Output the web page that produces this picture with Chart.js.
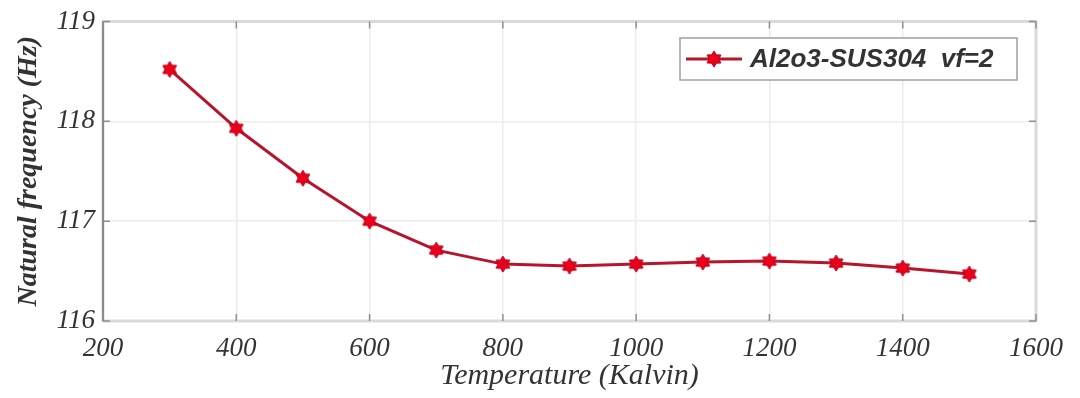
<!DOCTYPE html>
<html>
<head>
<meta charset="utf-8">
<script src="https://cdn.jsdelivr.net/npm/chart.js@4.4.1/dist/chart.umd.min.js"></script>
<style>
  html, body { margin: 0; padding: 0; background: #fff; }
  #wrap { width: 1080px; height: 398px; position: relative; }
</style>
</head>
<body>
<div id="wrap"><canvas id="grafica" width="1080" height="398"></canvas></div>
<script>
// --- datos ---
const temperaturas = [300, 400, 500, 600, 700, 800, 900, 1000, 1100, 1200, 1300, 1400, 1500];
const frecuencias  = [118.52, 117.93, 117.43, 117.00, 116.71, 116.57, 116.55, 116.57, 116.59, 116.60, 116.58, 116.53, 116.47];
const serieNombre  = 'Al2o3-SUS304  vf=2';
const xTicks = [200, 400, 600, 800, 1000, 1200, 1400, 1600];
const yTicks = [116, 117, 118, 119];

const ROJO_LINEA = '#b8142c';
const ROJO_MARCA = '#e8001c';

// estrella de 6 puntas para los marcadores
function hacerEstrella(r) {
  const c = document.createElement('canvas');
  const s = Math.ceil(r * 2 + 4);
  c.width = s; c.height = s;
  const g = c.getContext('2d');
  g.translate(s / 2, s / 2);
  g.beginPath();
  for (let i = 0; i < 12; i++) {
    const ang = -Math.PI / 2 + i * Math.PI / 6;
    const rad = i % 2 === 0 ? r : r * 0.6;
    const px = Math.cos(ang) * rad, py = Math.sin(ang) * rad;
    if (i === 0) g.moveTo(px, py); else g.lineTo(px, py);
  }
  g.closePath();
  g.fillStyle = ROJO_MARCA;
  g.fill();
  g.lineWidth = 1;
  g.strokeStyle = '#c00018';
  g.stroke();
  return c;
}
const estrella = hacerEstrella(8);

// marco del eje, ticks hacia dentro y leyenda con borde
const marcoPlugin = {
  id: 'marco',
  afterDatasetsDraw(chart) {
    const { ctx, chartArea: a, scales } = chart;
    ctx.save();
    ctx.strokeStyle = '#dadada';
    ctx.lineWidth = 3;
    ctx.strokeRect(a.left, a.top, a.right - a.left, a.bottom - a.top);
    ctx.strokeStyle = '#8a8a8a';
    ctx.lineWidth = 2;
    ctx.beginPath();
    ctx.moveTo(a.left, a.top); ctx.lineTo(a.left, a.bottom);
    ctx.stroke();
    // ticks hacia dentro
    ctx.strokeStyle = '#909090';
    ctx.lineWidth = 1.5;
    ctx.beginPath();
    xTicks.forEach(v => {
      const x = scales.x.getPixelForValue(v);
      ctx.moveTo(x, a.bottom); ctx.lineTo(x, a.bottom - 7);
      ctx.moveTo(x, a.top); ctx.lineTo(x, a.top + 7);
    });
    yTicks.forEach(v => {
      const y = scales.y.getPixelForValue(v);
      ctx.moveTo(a.left, y); ctx.lineTo(a.left + 7, y);
      ctx.moveTo(a.right, y); ctx.lineTo(a.right - 7, y);
    });
    ctx.stroke();

    // leyenda
    const lx = 680, ly = 38, lw = 337, lh = 42;
    ctx.fillStyle = '#fff';
    ctx.fillRect(lx, ly, lw, lh);
    ctx.strokeStyle = '#a0a0a0';
    ctx.lineWidth = 1.5;
    ctx.strokeRect(lx, ly, lw, lh);
    ctx.strokeStyle = ROJO_LINEA;
    ctx.lineWidth = 3;
    ctx.beginPath();
    ctx.moveTo(lx + 6, ly + lh / 2); ctx.lineTo(lx + 62, ly + lh / 2);
    ctx.stroke();
    ctx.drawImage(estrella, lx + 34 - estrella.width / 2, ly + lh / 2 - estrella.height / 2);
    ctx.fillStyle = '#333';
    ctx.font = 'italic bold 26px "Liberation Sans", Arial, sans-serif';
    ctx.textBaseline = 'middle';
    ctx.textAlign = 'left';
    ctx.fillText(serieNombre, lx + 70, ly + lh / 2 + 1);
    ctx.restore();
  }
};

const fuenteTicks = { family: '"Liberation Serif", serif', size: 27, style: 'italic', lineHeight: 1 };

new Chart(document.getElementById('grafica'), {
  type: 'line',
  data: {
    datasets: [{
      label: serieNombre,
      data: temperaturas.map((t, i) => ({ x: t, y: frecuencias[i] })),
      borderColor: ROJO_LINEA,
      borderWidth: 3,
      pointStyle: estrella,
      pointRadius: 8,
      tension: 0
    }]
  },
  options: {
    responsive: false,
    animation: false,
    layout: { padding: { left: 8, right: 44, top: 20, bottom: 0 } },
    plugins: { legend: { display: false }, tooltip: { enabled: false } },
    scales: {
      x: {
        type: 'linear',
        min: 200, max: 1600,
        afterBuildTicks: s => { s.ticks = xTicks.map(v => ({ value: v })); },
        afterFit: s => { s.height = 77; },
        grid: { color: '#ececec', lineWidth: 1.5, drawTicks: false },
        border: { display: false },
        ticks: { color: '#333', font: fuenteTicks, padding: 14, maxRotation: 0, callback: v => String(v) },
        title: {
          display: true, text: 'Temperature (Kalvin)', color: '#333',
          font: { family: '"Liberation Serif", serif', size: 30, style: 'italic' },
          padding: { top: 0 }
        }
      },
      y: {
        min: 116, max: 119,
        afterBuildTicks: s => { s.ticks = yTicks.map(v => ({ value: v })); },
        afterFit: s => { s.width = 95; },
        grid: { color: '#ececec', lineWidth: 1.5, drawTicks: false },
        border: { display: false },
        ticks: { color: '#333', font: fuenteTicks, padding: 8, callback: v => String(v) },
        title: {
          display: true, text: 'Natural frequency (Hz)', color: '#333',
          font: { family: '"Liberation Serif", serif', size: 28, style: 'italic', weight: 'bold' },
          padding: { bottom: 2 }
        }
      }
    }
  },
  plugins: [marcoPlugin]
});
</script>
</body>
</html>
